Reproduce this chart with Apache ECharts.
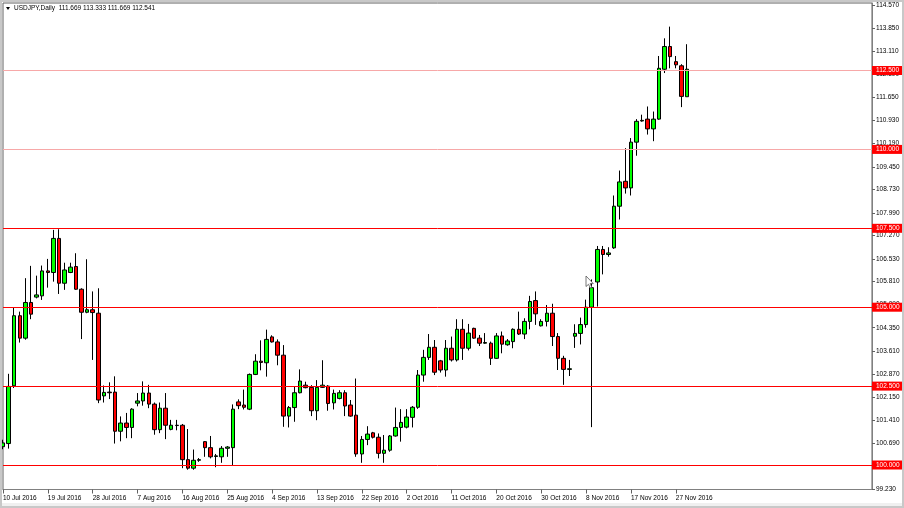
<!DOCTYPE html>
<html>
<head>
<meta charset="utf-8">
<script src="https://cdn.jsdelivr.net/npm/echarts@6/dist/echarts.min.js"></script>
<style>
html,body{margin:0;padding:0;background:#fff;}
#chart{width:904px;height:508px;}
</style>
</head>
<body>
<div id="chart"></div>
<script>
// ---- data (USDJPY daily) ----
const openP = [100.58,100.68,102.51,104.73,104.02,105.15,105.32,105.36,106.15,106.10,
107.18,105.76,106.10,106.29,105.57,104.84,104.92,104.81,102.19,102.31,
102.31,101.07,101.33,101.19,101.96,102.03,102.28,101.93,101.12,101.80,
101.13,101.26,101.26,100.17,99.90,100.15,100.74,100.55,100.27,100.26,
100.53,100.55,102.00,101.90,101.77,102.87,103.29,103.24,104.06,103.90,
103.48,101.55,101.82,102.29,102.53,102.46,101.72,102.46,102.50,101.97,
102.11,102.29,101.90,101.58,100.35,100.81,101.02,100.88,100.37,100.47,
100.92,101.19,101.20,101.51,101.83,102.85,103.41,103.73,103.30,103.01,
103.70,103.33,104.30,103.70,104.33,104.02,103.86,103.86,103.38,104.09,
103.81,103.91,104.30,104.15,104.55,105.21,104.41,104.55,104.81,104.07,
103.38,103.03,104.08,104.17,104.45,105.00,105.80,106.83,106.67,106.88,
108.20,108.99,108.78,110.23,110.90,110.96,110.65,110.96,112.54,113.26,
112.78,112.65,111.669];
const highP = [100.80,102.89,105.00,104.86,105.92,106.31,106.00,106.32,106.53,107.45,
107.47,106.41,106.41,106.71,105.60,106.52,105.50,105.60,102.52,102.62,
102.81,101.54,101.65,101.80,102.28,102.65,102.54,101.98,101.98,102.28,
101.43,101.43,101.30,101.14,100.49,100.22,100.76,100.92,100.35,100.60,
100.60,101.92,102.08,102.39,102.90,103.51,103.95,104.29,104.11,103.98,
103.80,101.87,102.48,103.03,102.64,102.53,102.69,103.32,102.53,102.39,
102.37,102.37,102.06,102.74,100.92,101.23,101.05,101.00,100.95,100.95,
101.82,101.77,101.77,101.87,103.01,103.65,104.15,103.96,103.33,103.96,
104.07,104.62,104.62,104.47,104.35,104.12,104.18,103.91,104.18,104.23,
103.99,104.33,104.86,104.65,105.36,105.50,104.62,105.07,105.11,104.18,
103.46,103.33,104.46,104.67,105.24,105.88,106.94,106.94,106.90,108.54,
109.33,110.04,110.36,110.96,111.10,111.36,111.20,112.96,113.52,113.89,
112.96,112.70,113.333];
const lowP = [100.50,100.52,102.44,103.88,103.97,104.62,105.28,105.23,105.62,105.81,
105.42,105.55,106.08,105.55,103.99,104.81,103.33,101.96,101.98,102.09,
100.68,100.75,100.85,100.85,101.86,101.88,101.80,100.96,101.01,100.82,
101.10,101.10,99.90,99.85,99.85,100.10,100.26,100.21,99.93,100.07,
100.26,100.00,101.77,101.76,101.74,102.85,103.00,102.80,103.88,103.16,
101.21,101.19,101.37,102.27,102.43,101.55,101.42,102.44,101.72,101.76,
102.08,101.55,101.53,100.26,100.07,100.63,100.84,100.21,100.07,100.42,
100.90,100.74,101.16,101.19,101.78,102.64,103.33,102.85,102.93,102.80,
103.28,103.28,103.33,103.63,104.00,103.77,103.84,103.17,103.36,103.54,
103.78,103.70,104.12,103.99,104.30,104.44,104.39,104.39,103.77,103.01,
102.54,102.82,103.71,103.82,104.35,101.20,105.02,106.04,106.60,106.85,
107.78,108.60,108.54,109.80,110.88,110.47,110.26,110.94,112.42,112.57,
112.57,111.34,111.669];
const closeP = [100.70,102.49,104.73,104.02,105.15,104.78,105.39,106.15,106.10,107.18,
105.76,106.18,106.27,105.57,104.84,104.92,104.83,102.06,102.30,102.29,
101.07,101.33,101.19,101.77,102.03,102.28,101.93,101.12,101.80,101.26,
101.26,101.25,100.17,99.90,100.15,100.17,100.55,100.26,100.29,100.53,
100.57,101.77,101.88,101.83,102.87,103.29,103.25,103.98,103.90,103.48,
101.55,101.82,102.29,102.66,102.45,101.72,102.46,102.53,101.95,102.27,
102.29,101.87,101.55,100.35,100.81,100.98,100.88,100.37,100.47,100.92,
101.19,101.35,101.52,101.83,102.85,103.41,103.73,102.94,103.01,103.70,
103.33,104.30,103.70,104.18,104.02,103.86,103.88,103.38,104.09,103.83,
103.93,104.30,104.15,104.55,105.18,104.79,104.55,104.81,104.07,103.38,
103.03,103.05,104.17,104.45,105.00,105.62,106.83,106.67,106.72,108.20,
108.97,108.78,110.23,110.89,110.92,110.65,110.96,112.57,113.26,112.94,
112.68,111.68,112.541];

// horizontal levels
const levelValues = [112.5, 110.0, 107.5, 105.0, 102.5, 100.0];
const levelColors = ['#f7a8a8', '#f7a8a8', '#ff0000', '#ff0000', '#ff0000', '#ff0000'];

// price-axis tick labels
const yTicks = [99.23, 99.95, 100.69, 101.41, 102.15, 102.87, 103.61, 104.35, 105.09, 105.81,
  106.53, 107.27, 107.99, 108.73, 109.45, 110.19, 110.93, 111.65, 112.39, 113.11, 113.85, 114.57];

// date categories (broker includes Sunday bars, no Saturdays)
const monthNames = ['Jan','Feb','Mar','Apr','May','Jun','Jul','Aug','Sep','Oct','Nov','Dec'];
const categoryCount = 156;
const categories = [];
(function(){
  const d = new Date(Date.UTC(2016, 6, 10));
  while (categories.length < categoryCount) {
    if (d.getUTCDay() !== 6) {
      categories.push(d.getUTCDate() + ' ' + monthNames[d.getUTCMonth()] + ' ' + d.getUTCFullYear());
    }
    d.setUTCDate(d.getUTCDate() + 1);
  }
})();
const labelEvery = 8;
const lastIndex = openP.length - 1;

const candleData = openP.map((o, i) => [o, closeP[i], lowP[i], highP[i]]);

const FONT = 'Liberation Sans';
const chart = echarts.init(document.getElementById('chart'), null, {renderer: 'canvas'});
const tickFn = (i) => i % labelEvery === 0 && i <= lastIndex;

chart.setOption({
  animation: false,
  backgroundColor: '#ffffff',
  grid: {left: 3, top: 3, width: 869, height: 486.5, show: true, borderColor: '#606060', borderWidth: 1},
  xAxis: {
    type: 'category',
    data: categories,
    boundaryGap: false,
    axisLine: {show: true, lineStyle: {color: '#808080', width: 1}},
    axisTick: {show: true, interval: tickFn, length: 4, lineStyle: {color: '#606060'}},
    axisLabel: {interval: tickFn, align: 'left', fontSize: 6.5, fontFamily: FONT, color: '#000', margin: 5, hideOverlap: false},
    splitLine: {show: false}
  },
  yAxis: {
    type: 'value',
    position: 'right',
    min: 99.224,
    max: 114.639,
    axisLine: {show: true, lineStyle: {color: '#808080', width: 1}},
    axisTick: {show: true, length: 3, customValues: yTicks, lineStyle: {color: '#606060'}},
    axisLabel: {customValues: yTicks, formatter: (v) => v.toFixed(3), fontSize: 6.5, fontFamily: FONT, color: '#000', margin: 4},
    splitLine: {show: false}
  },
  series: [{
    type: 'candlestick',
    data: candleData,
    barWidth: 4,
    clip: true,
    itemStyle: {color: '#00ff00', color0: '#ff0000', borderColor: '#000000', borderColor0: '#000000', borderWidth: 1},
    emphasis: {disabled: true},
    markLine: {
      silent: true,
      symbol: ['none', 'none'],
      animation: false,
      data: levelValues.map((v, i) => ({
        yAxis: v,
        lineStyle: {color: levelColors[i], width: 1, type: 'solid'},
        label: {
          show: true, position: 'end', distance: 0,
          formatter: v.toFixed(3),
          color: '#ffffff', backgroundColor: '#ff0000',
          fontSize: 6.5, fontFamily: FONT, padding: [1, 4, 1, 4], lineHeight: 7
        }
      }))
    }
  }],
  graphic: [
    {type: 'rect', shape: {x: 0, y: 503, width: 904, height: 5}, style: {fill: '#f0f0f0'}, z: -1},
    {type: 'rect', shape: {x: 1, y: 1, width: 902, height: 506}, style: {fill: 'none', stroke: '#c8c8c8', lineWidth: 2}, z: 10},
    {type: 'polygon', shape: {points: [[6, 7], [10, 7], [8, 10]]}, style: {fill: '#000'}, z: 10},
    {type: 'text', x: 14, y: 8.5, style: {text: 'USDJPY,Daily  ' + openP[lastIndex].toFixed(3) + ' ' + highP[lastIndex].toFixed(3) + ' ' + lowP[lastIndex].toFixed(3) + ' ' + closeP[lastIndex].toFixed(3), font: '6.5px "Liberation Sans"', fill: '#000', verticalAlign: 'middle'}, z: 10},
    {type: 'polygon', x: 586, y: 276, shape: {points: [[0, 0], [0, 10.5], [2.5, 8.3], [4.3, 12], [5.8, 11.3], [4, 7.6], [7.3, 7.6]]}, style: {fill: '#ffffff', stroke: '#555555', lineWidth: 0.8}, z: 20}
  ]
});
</script>
</body>
</html>
